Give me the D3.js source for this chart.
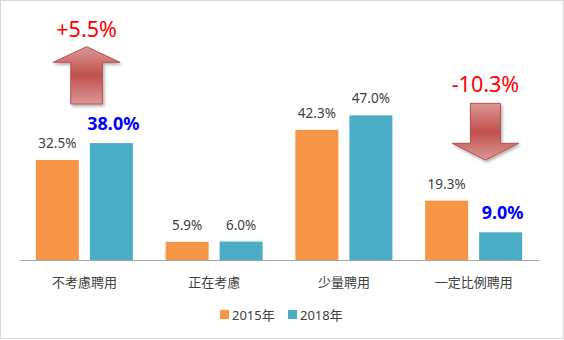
<!DOCTYPE html>
<html><head><meta charset="utf-8">
<script src="https://cdn.jsdelivr.net/npm/d3@7"></script>
<style>
html,body{margin:0;padding:0;background:#fff;}
svg{display:block;font-family:"Noto Sans","Noto Sans CJK TC",sans-serif;}
</style></head>
<body>
<svg id="chart" width="564" height="340"></svg>
<script>
const categories = ["不考慮聘用", "正在考慮", "少量聘用", "一定比例聘用"];
const seriesNames = ["2015年", "2018年"];
const values2015 = [32.5, 5.9, 42.3, 19.3];
const values2018 = [38.0, 6.0, 47.0, 9.0];
const highlighted2018 = [true, false, false, true];
const changeLabels = ["+5.5%", "-10.3%"];
const changeCategories = ["不考慮聘用", "一定比例聘用"];
const changeDirections = ["up", "down"];
const colors = ["#f79646", "#4bacc6"];

const svg = d3.select("#chart");
const W = 564, H = 340;

svg.append("rect").attr("x", 0.5).attr("y", 0.5).attr("width", W - 1).attr("height", H - 2)
  .attr("fill", "#fff").attr("stroke", "#d9d9d9");

const defs = svg.append("defs");
const grad = defs.append("linearGradient").attr("id", "arrowGrad")
  .attr("x1", 0).attr("y1", 0).attr("x2", 0).attr("y2", 1);
grad.append("stop").attr("offset", "0%").attr("stop-color", "#dc9896");
grad.append("stop").attr("offset", "50%").attr("stop-color", "#c0504d");
grad.append("stop").attr("offset", "100%").attr("stop-color", "#dc9896");
const shadow = defs.append("filter").attr("id", "shadow").attr("x", "-20%").attr("y", "-20%").attr("width", "150%").attr("height", "150%");
shadow.append("feDropShadow").attr("dx", 1.5).attr("dy", 2).attr("stdDeviation", 1.5)
  .attr("flood-color", "#000").attr("flood-opacity", 0.3);

const baseY = 260;
const x0 = d3.scaleBand().domain(categories).range([19.5, 538.5]).padding(0);
const x1 = d3.scaleBand().domain(seriesNames).range([0, x0.bandwidth()])
  .paddingInner(0.2037).paddingOuter(0.303);
const y = d3.scaleLinear().domain([0, 50]).range([baseY, baseY - 50 * 3.077]);

const data = categories.map((c, i) => ({
  cat: c,
  vals: [
    { s: seriesNames[0], v: values2015[i], hi: false, color: colors[0] },
    { s: seriesNames[1], v: values2018[i], hi: highlighted2018[i], color: colors[1] }
  ]
}));

const groups = svg.append("g").selectAll("g").data(data).join("g")
  .attr("transform", d => `translate(${x0(d.cat)},0)`);

groups.selectAll("rect").data(d => d.vals).join("rect")
  .attr("x", d => x1(d.s)).attr("width", x1.bandwidth())
  .attr("y", d => y(d.v)).attr("height", d => y(0) - y(d.v))
  .attr("fill", d => d.color);

groups.selectAll("text.val").data(d => d.vals).join("text")
  .attr("class", "val")
  .attr("x", d => x1(d.s) + x1.bandwidth() / 2 + (d.hi ? 2 : 0))
  .attr("y", d => y(d.v) - (d.hi ? 13 : 12))
  .attr("text-anchor", "middle")
  .attr("font-size", d => d.hi ? 18 : 13.5)
  .attr("font-weight", d => d.hi ? "bold" : "normal")
  .attr("fill", d => d.hi ? "#0000ff" : "#404040")
  .text(d => d.v.toFixed(1) + "%");

// axis
const xAxis = d3.axisBottom(x0).tickSize(0).tickPadding(0);
const ax = svg.append("g").attr("transform", `translate(0,${baseY})`).call(xAxis);
ax.select(".domain").attr("stroke", "#a6a6a6").attr("stroke-width", 1.2);
ax.selectAll(".tick text").attr("font-size", 13).attr("fill", "#404040")
  .attr("font-family", "'Noto Sans CJK TC','Noto Sans',sans-serif")
  .attr("dy", 0).attr("y", 27);

// change arrows
const arrowSpec = changeCategories.map((c, i) => ({
  cat: c, label: changeLabels[i], dir: changeDirections[i]
}));
arrowSpec.forEach(a => {
  const g = svg.append("g");
  let cx, pts, ty;
  const hw = 33.3;
  if (a.dir === "up") {
    cx = x0(a.cat) + x0.bandwidth() / 2 + 2.2;
    const tip = 46.7, hb = 62.3, bot = 104, sw = 15.8;
    pts = [[cx, tip], [cx + hw, hb], [cx + sw, hb], [cx + sw, bot], [cx - sw, bot], [cx - sw, hb], [cx - hw, hb]];
    ty = 36.5;
  } else {
    cx = x0(a.cat) + x0.bandwidth() / 2 + 11.8;
    const top = 103.3, hb = 143.3, tip = 160, sw = 15;
    pts = [[cx - sw, top], [cx + sw, top], [cx + sw, hb], [cx + hw, hb], [cx, tip], [cx - hw, hb], [cx - sw, hb]];
    ty = 91.5;
  }
  g.append("path").attr("d", d3.line()(pts) + "Z")
    .attr("fill", "url(#arrowGrad)").attr("stroke", "#b5504d").attr("stroke-width", 1)
    .attr("filter", "url(#shadow)");
  g.append("text").attr("x", cx).attr("y", ty).attr("text-anchor", "middle")
    .attr("font-size", 21.5).attr("fill", "#ff0000").text(a.label);
});

// legend
const legend = svg.append("g");
const legX = [220, 288];
seriesNames.forEach((s, i) => {
  legend.append("rect").attr("x", legX[i]).attr("y", 310).attr("width", 9).attr("height", 9).attr("fill", colors[i]);
  legend.append("text").attr("x", legX[i] + 12).attr("y", 319.5).attr("font-size", 13)
    .attr("fill", "#404040").text(s);
});
</script>
</body></html>
